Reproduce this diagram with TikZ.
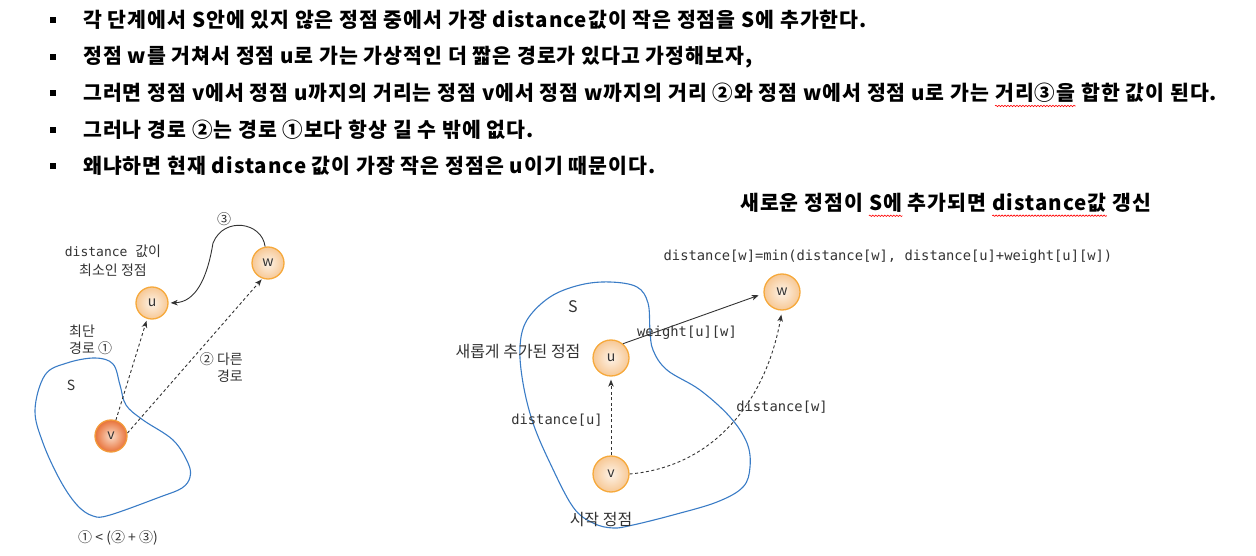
\documentclass[tikz,border=0pt]{standalone}
\usepackage{fontspec}
\newfontfamily\kr{Noto Sans CJK KR}
\newfontfamily\krh{Noto Sans CJK KR}[LetterSpace=5]
\newfontfamily\mono{DejaVu Sans Mono}
\usetikzlibrary{arrows.meta,decorations.pathmorphing}
\definecolor{sblue}{HTML}{3A7CC6}
\definecolor{txt}{HTML}{333333}
\definecolor{lin}{HTML}{FDF3E8}
\definecolor{lout}{HTML}{F7C895}
\definecolor{lbord}{HTML}{F6A93B}
\definecolor{din}{HTML}{FBDCC8}
\definecolor{dout}{HTML}{E8723A}
\definecolor{dbord}{HTML}{F29A3A}
\newcommand\K[1]{{\kr #1}}
\tikzset{
  hd/.style={font=\krh\bfseries\fontsize{20.5}{24}\selectfont, inner sep=0, anchor=west},
  bul/.style={fill=black, minimum size=5.5pt, inner sep=0},
  klbl/.style={font=\kr\fontsize{14}{17}\selectfont, text=txt, inner sep=0},
  klblb/.style={font=\kr\fontsize{16}{18}\selectfont, text=txt, inner sep=0},
  mlbl/.style={font=\mono\fontsize{13}{19}\selectfont, text=txt, inner sep=0, align=center},
  mlblb/.style={font=\mono\fontsize{13.8}{17}\selectfont, text=txt, inner sep=0},
  vtx/.style={circle, inner sep=0, draw=lbord, line width=1.3pt, inner color=lin, outer color=lout,
    font=\kr\fontsize{14}{14}\selectfont, text=txt},
  vsmall/.style={vtx, minimum size=32pt},
  vbig/.style={vtx, minimum size=36pt},
  vdark/.style={vsmall, draw=dbord, inner color=din, outer color=dout},
  blob/.style={sblue, line width=1.1pt},
  dasharrow/.style={draw=txt, line width=0.9pt, dash pattern=on 3pt off 2.5pt,
    -{Stealth[length=7pt,width=5.5pt,inset=2pt]}},
  solidarrow/.style={draw=txt, line width=0.9pt, -{Stealth[length=7pt,width=5.5pt,inset=2pt]}},
  squig/.style={red, line width=0.6pt, decorate, decoration={snake,amplitude=0.7pt,segment length=3pt}},
}
\begin{document}
\begin{tikzpicture}[x=1pt,y=1pt]
\useasboundingbox (0,0) rectangle (1256,-556);

% bullets and header lines
\node[bul] (b1) at (53,-20) {};
\node[bul] (b2) at (53,-57) {};
\node[bul] (b3) at (53,-93) {};
\node[bul] (b4) at (53,-130) {};
\node[bul] (b5) at (53,-166) {};
\node[hd] (h1) at (83,-20) {각 단계에서 S안에 있지 않은 정점 중에서 가장 distance값이 작은 정점을 S에 추가한다.};
\node[hd] (h2) at (83,-57) {정점 w를 거쳐서 정점 u로 가는 가상적인 더 짧은 경로가 있다고 가정해보자,};
\node[hd] (h3a) at (83,-93) {그러면 정점 v에서 정점 u까지의 거리는 정점 v에서 정점 w까지의 거리 ②와 정점 w에서 정점 u로 가는};
\node[hd, anchor=base west] (h3b) at ([xshift=5.5pt]h3a.base east) {거리③을};
\node[hd, anchor=base west] (h3c) at ([xshift=5.5pt]h3b.base east) {합한 값이 된다.};
\node[hd] (h4) at (83,-130) {그러나 경로 ②는 경로 ①보다 항상 길 수 밖에 없다.};
\node[hd] (h5) at (83,-166) {왜냐하면 현재 distance 값이 가장 작은 정점은 u이기 때문이다.};
\draw[squig] ([yshift=-3pt]h3b.south west) -- ([yshift=-3pt]h3b.south east);

% title of right diagram
\node[hd] (t1) at (740,-203) {새로운 정점이};
\node[hd, anchor=base west] (t2) at ([xshift=5.5pt]t1.base east) {S에};
\node[hd, anchor=base west] (t3) at ([xshift=5.5pt]t2.base east) {추가되면};
\node[hd, anchor=base west] (t4) at ([xshift=5.5pt]t3.base east) {distance값};
\node[hd, anchor=base west] (t5) at ([xshift=5.5pt]t4.base east) {갱신};
\draw[squig] ([yshift=-3pt]t2.south west) -- ([yshift=-3pt]t2.south east);
\draw[squig] ([yshift=-3pt]t4.south west) -- ([yshift=-3pt]t4.south east);

% ---------- left diagram ----------
\draw[blob] plot[smooth cycle, tension=0.6] coordinates {
  (35,-410) (45,-375) (67,-363) (95,-358) (113,-364) (120,-385) (126,-405) (143,-420)
  (173,-440) (188,-463) (190,-477) (182,-488) (160,-497) (110,-515) (93,-516)
  (77,-505) (60,-480) (43,-443)};
\node[vsmall] (u) at (152,-303) {u};
\node[vsmall] (w) at (268,-263) {w};
\node[vdark] (v) at (111,-436) {v};

\draw[dasharrow, shorten >=2pt] (v) -- (u);
\draw[dasharrow, shorten >=1pt] (v.10) -- (w.250);
\draw[solidarrow, shorten >=2pt] (w.100) .. controls (262,-222) and (224,-216) .. (213,-243)
  .. controls (207,-280) and (195,-302) .. (u.east);

\node[klbl] (l3) at (224,-219) {③};
\node[mlbl] (lmin) at (113,-261) {distance \K{\fontsize{14}{19}\selectfont 값이}\\\K{\fontsize{14}{19}\selectfont 최소인 정점}};
\node[klbl, align=left, anchor=west] (lshort) at (69,-340) {최단\\경로 ①};
\node[klbl, align=right, anchor=east] (lother) at (243,-368) {② 다른\\경로};
\node[klbl] (lS) at (71,-385) {S};
\node[klbl] (lineq) at (118,-538) {① < (② + ③)};

% ---------- right diagram ----------
\draw[blob] plot[smooth cycle, tension=0.6] coordinates {
  (610,-282) (637,-287) (648,-303) (650,-330) (653,-350) (667,-370) (700,-390)
  (730,-417) (747,-443) (750,-467) (743,-487) (717,-502) (673,-515) (633,-525)
  (613,-528) (593,-523) (573,-507) (550,-463) (533,-423) (523,-383) (520,-347)
  (527,-320) (550,-297) (580,-285)};
\node[vbig] (U) at (611,-358) {u};
\node[vbig] (W) at (782,-292) {w};
\node[vbig] (V) at (611,-474) {v};

\draw[solidarrow, shorten >=5pt] (U.50) -- (W.185);
\draw[dasharrow, shorten >=3pt] (V.north) -- (U.south);
\draw[dasharrow, shorten >=4pt] (V.east) to[out=5,in=-100] (W.south);

\node[klblb] (rS) at (573,-307) {S};
\node[klblb] (rnew) at (518,-352) {새롭게 추가된 정점};
\node[mlblb] (rwt) at (687,-333) {weight[u][w]};
\node[mlblb] (rdu) at (557,-420) {distance[u]};
\node[mlblb] (rdw) at (782,-407) {distance[w]};
\node[klblb] (rstart) at (601,-520) {시작 정점};
\node[mlblb] (rform) at (888,-257) {distance[w]=min(distance[w], distance[u]+weight[u][w])};
\end{tikzpicture}
\end{document}
